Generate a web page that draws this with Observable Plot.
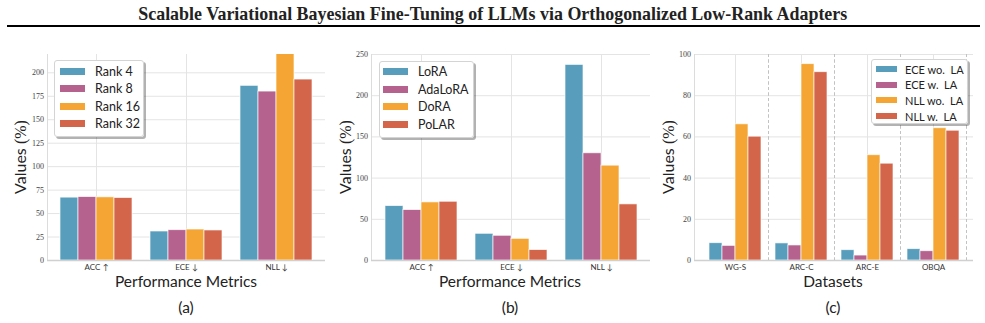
<!DOCTYPE html>
<html>
<head>
<meta charset="utf-8">
<script src="https://cdn.jsdelivr.net/npm/d3@7"></script>
<script src="https://cdn.jsdelivr.net/npm/@observablehq/plot@0.6"></script>
<style>
  body { margin: 0; background: #fff; }
  #fig { position: relative; width: 985px; height: 323px; overflow: hidden; font-family: Lato, "Liberation Sans", sans-serif; color: #222; }
  #title { position: absolute; left: 0; width: 985px; top: 3px; text-align: center; }
  #title span { display: inline-block; font: bold 19px "Liberation Serif", serif; white-space: nowrap; transform-origin: 50% 50%; }
  #rule { position: absolute; left: 7px; width: 973px; top: 24.5px; height: 2px; background: #000; }
  .panel { position: absolute; top: 40px; width: 330px; height: 245px; }
  .panel svg { position: absolute; left: 0; top: 0; }
  .xtitle, .caption { position: absolute; transform: translate(-50%, -50%); white-space: nowrap; font-size: 15.5px; }
  .ytitle { position: absolute; transform: translate(-50%, -50%) rotate(-90deg); white-space: nowrap; font-size: 16px; }
  .ytitle .m { font-family: "Liberation Serif", serif; }
  .legend { position: absolute; box-sizing: border-box; background: rgba(255,255,255,0.97); border: 1px solid #d4d4d4; border-radius: 3px; box-shadow: 2px 2px 0 rgba(0,0,0,0.3); }
  .legend .row { display: flex; align-items: center; white-space: pre; }
  .legend .sw { flex: none; }
</style>
</head>
<body>
<div id="fig">
  <div id="title"><span>Scalable Variational Bayesian Fine-Tuning of LLMs via Orthogonalized Low-Rank Adapters</span></div>
  <div id="rule"></div>
</div>
<script>
// (a) effect of the adapter rank
const metrics = ["ACC ↑", "ECE ↓", "NLL ↓"];
const rankNames = ["Rank 4", "Rank 8", "Rank 16", "Rank 32"];
const rank4 = [67.0, 30.9, 186.1];
const rank8 = [67.6, 32.3, 180.0];
const rank16 = [67.3, 33.0, 231.0];
const rank32 = [66.6, 32.0, 192.8];

// (b) comparison of adapter methods
const methodNames = ["LoRA", "AdaLoRA", "DoRA", "PoLAR"];
const lora = [66.0, 32.4, 237.4];
const adalora = [61.2, 30.0, 130.1];
const dora = [70.5, 26.3, 115.1];
const polar = [71.3, 12.6, 68.1];

// (c) with and without Laplace approximation
const datasets = ["WG-S", "ARC-C", "ARC-E", "OBQA"];
const laNames = ["ECE wo.  LA", "ECE w.  LA", "NLL wo.  LA", "NLL w.  LA"];
const eceWithoutLA = [8.4, 8.3, 5.0, 5.5];
const eceWithLA = [7.1, 7.3, 2.4, 4.5];
const nllWithoutLA = [66.1, 95.3, 51.1, 64.2];
const nllWithLA = [60.1, 91.4, 47.0, 63.0];

const palette = ["#589EBC", "#B5628E", "#F4A534", "#D2654A"];
const yTicksA = [0, 25, 50, 75, 100, 125, 150, 175, 200];
const yTicksB = [0, 50, 100, 150, 200, 250];
const yTicksC = [0, 20, 40, 60, 80, 100];

const fig = document.getElementById("fig");
const W = 330, H = 245, MT = 14, MB = 25;

function table(categories, names, seriesList) {
  return seriesList.flatMap((vals, s) =>
    categories.map((c, i) => ({category: c, series: names[s], value: vals[i]})));
}

// Background layer: horizontal grid, spines and the value axis
function backdrop({yDomain, yTicks, marginLeft, marginRight}) {
  return Plot.plot({
    width: W, height: H, marginLeft, marginRight, marginTop: MT, marginBottom: MB,
    style: {background: "transparent", overflow: "visible"},
    y: {domain: yDomain, axis: null},
    marks: [
      Plot.ruleY(yTicks, {stroke: "#e4e4e4", strokeWidth: 1}),
      Plot.frame({anchor: "left", stroke: "#dcdcdc", strokeWidth: 1}),
      Plot.ruleY([0], {stroke: "#d0d0d0", strokeWidth: 1.6}),
      Plot.axisY(yTicks, {anchor: "left", tickSize: 0, tickPadding: 3.5, fontSize: 8, fontFamily: "Liberation Serif, serif", fill: "#444", label: null})
    ]
  });
}

// Foreground layer: grouped bars faceted by category
function bars({data, categories, names, yDomain, marginLeft, marginRight, outer, separators = null}) {
  const marks = [Plot.gridFx({stroke: "#e4e4e4", strokeOpacity: 1, strokeWidth: 1})];
  if (separators) {
    marks.push(Plot.gridFx(separators.ticks, {dx: separators.offset, stroke: "#c2c2c2", strokeOpacity: 1, strokeWidth: 0.8, strokeDasharray: "3,2.5"}));
  }
  marks.push(
    Plot.barY(data, {fx: "category", x: "series", y: "value", fill: "series", stroke: "#fff", strokeWidth: 0.8, strokeOpacity: 0.8, clip: true}),
    Plot.axisFx({anchor: "bottom", tickSize: 0, tickPadding: 4, fontSize: 8, fontFamily: "Lato, Liberation Sans, sans-serif", fill: "#333", label: null})
  );
  return Plot.plot({
    width: W, height: H, marginLeft, marginRight, marginTop: MT, marginBottom: MB,
    style: {background: "transparent", overflow: "visible"},
    fx: {domain: categories, paddingInner: 0, paddingOuter: outer, axis: null, label: null},
    x: {domain: names, paddingInner: 0, paddingOuter: 0.5, axis: null},
    y: {domain: yDomain, axis: null},
    color: {domain: names, range: palette},
    marks
  });
}

function place(opts, left) {
  const wrap = document.createElement("div");
  wrap.className = "panel";
  wrap.style.left = left + "px";
  wrap.appendChild(backdrop(opts));
  wrap.appendChild(bars(opts));
  fig.appendChild(wrap);
}

function text(cls, html, x, y) {
  const d = document.createElement("div");
  d.className = cls;
  d.innerHTML = html;
  d.style.left = x + "px";
  d.style.top = y + "px";
  fig.appendChild(d);
  return d;
}

function legend(names, {left, top, width, height, rowHeight, padTop, swLeft, swWidth, swHeight, gap, fontSize}) {
  const box = document.createElement("div");
  box.className = "legend";
  Object.assign(box.style, {left: left + "px", top: top + "px", width: width + "px", height: height + "px", paddingTop: padTop + "px", paddingLeft: swLeft + "px", fontSize: fontSize + "px"});
  names.forEach((n, i) => {
    const row = document.createElement("div");
    row.className = "row";
    row.style.height = rowHeight + "px";
    const sw = document.createElement("div");
    sw.className = "sw";
    Object.assign(sw.style, {width: swWidth + "px", height: swHeight + "px", background: palette[i], marginRight: gap + "px"});
    const t = document.createElement("span");
    t.textContent = n;
    row.appendChild(sw);
    row.appendChild(t);
    box.appendChild(row);
  });
  fig.appendChild(box);
}

// Panel (a)
place({
  data: table(metrics, rankNames, [rank4, rank8, rank16, rank32]),
  categories: metrics, names: rankNames, yDomain: [0, 219.5], yTicks: yTicksA,
  marginLeft: 47, marginRight: 5, outer: 0.04
}, 0);
text("ytitle", 'Values <span class="m">(%)</span>', 20, 157);
text("xtitle", "Performance Metrics", 186, 281);
text("caption", "(a)", 186, 307);
legend(rankNames, {left: 54, top: 60, width: 90, height: 77, rowHeight: 17.5, padTop: 1.5, swLeft: 5, swWidth: 25, swHeight: 7, gap: 10, fontSize: 12.5});

// Panel (b)
place({
  data: table(metrics, methodNames, [lora, adalora, dora, polar]),
  categories: metrics, names: methodNames, yDomain: [0, 250], yTicks: yTicksB,
  marginLeft: 41, marginRight: 10, outer: 0.04
}, 330);
text("ytitle", 'Values <span class="m">(%)</span>', 345, 157);
text("xtitle", "Performance Metrics", 510, 281);
text("caption", "(b)", 510, 307);
legend(methodNames, {left: 379, top: 60.5, width: 95, height: 77, rowHeight: 17.5, padTop: 1.5, swLeft: 3, swWidth: 25, swHeight: 7, gap: 10, fontSize: 12.5});

// Panel (c): dashed separators sit half a band to the right of each dataset
const optsC = {
  data: table(datasets, laNames, [eceWithoutLA, eceWithLA, nllWithoutLA, nllWithLA]),
  categories: datasets, names: laNames, yDomain: [0, 100], yTicks: yTicksC,
  marginLeft: 39, marginRight: 12, outer: 0.09
};
const stepC = bars(optsC).scale("fx").step;
place({...optsC, separators: {ticks: datasets.slice(0, -1), offset: stepC / 2}}, 655);
text("ytitle", 'Values <span class="m">(%)</span>', 667.5, 157);
text("xtitle", "Datasets", 833, 281);
text("caption", "(c)", 833, 307);
legend(laNames, {left: 871, top: 59, width: 97, height: 65, rowHeight: 15.7, padTop: 1.2, swLeft: 4, swWidth: 21, swHeight: 6, gap: 8, fontSize: 11});

// Condense the title to its set width
const ts = document.querySelector("#title span");
const tw = ts.getBoundingClientRect().width;
ts.style.transform = `scaleX(${709 / tw})`;
</script>
</body>
</html>
